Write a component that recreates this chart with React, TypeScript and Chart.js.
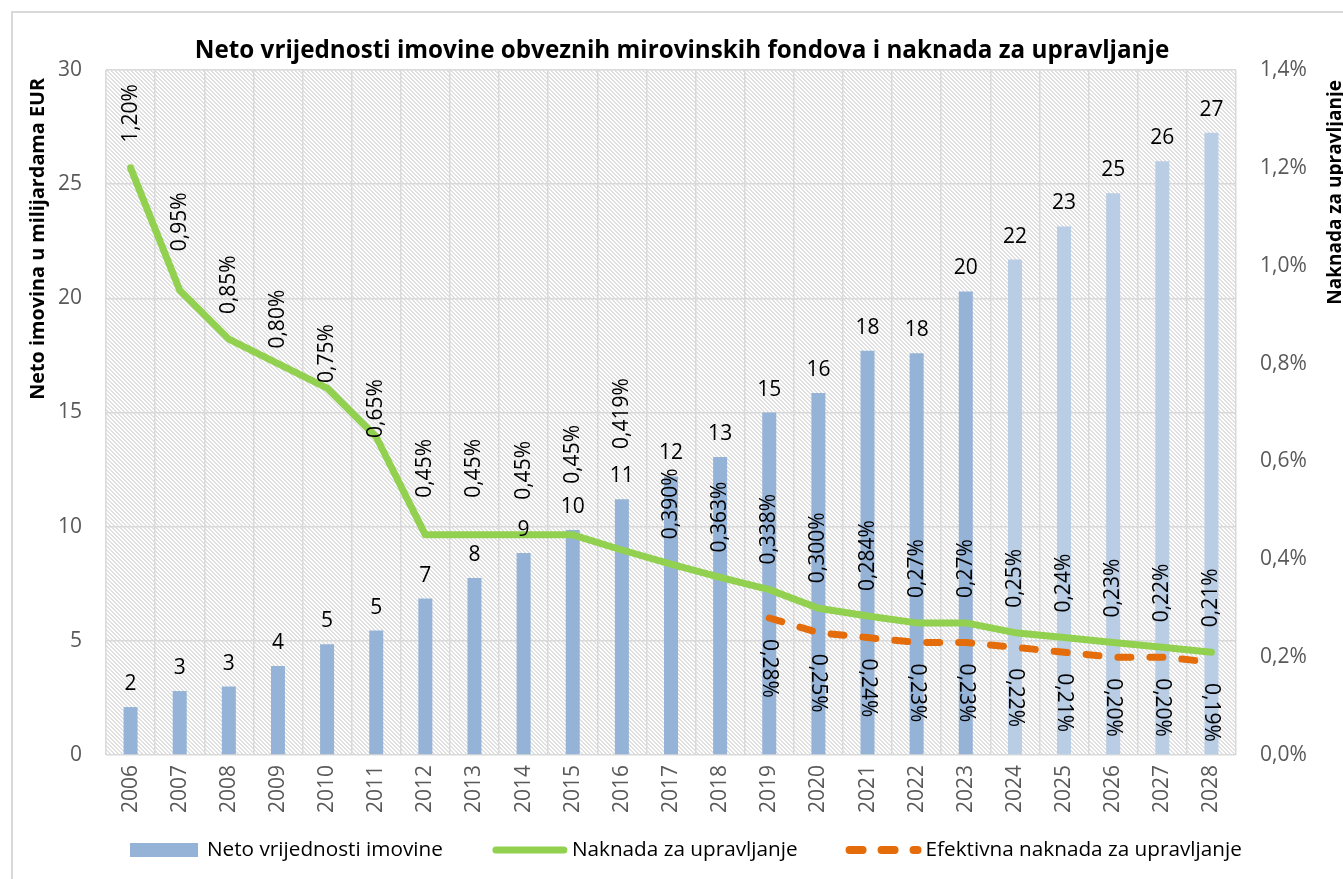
import React, { useEffect, useRef } from 'react';
import { Chart, registerables } from 'chart.js';

Chart.register(...registerables);

const FONT = "'Open Sans', sans-serif";

const chartTitle = 'Neto vrijednosti imovine obveznih mirovinskih fondova i naknada za upravljanje';
const leftAxisTitle = 'Neto imovina u milijardama EUR';
const rightAxisTitle = 'Naknada za upravljanje';

const years = ['2006', '2007', '2008', '2009', '2010', '2011', '2012', '2013', '2014', '2015', '2016', '2017', '2018', '2019', '2020', '2021', '2022', '2023', '2024', '2025', '2026', '2027', '2028'];
const firstProjectedYear = '2024';

const seriesNames = ['Neto vrijednosti imovine', 'Naknada za upravljanje', 'Efektivna naknada za upravljanje'];

// Net asset value, billion EUR
const netAssets = [2.1, 2.8, 3.0, 3.9, 4.85, 5.45, 6.85, 7.75, 8.85, 9.85, 11.2, 12.2, 13.05, 15.0, 15.85, 17.7, 17.6, 20.3, 21.7, 23.15, 24.6, 26.0, 27.25];
const netAssetLabels = ['2', '3', '3', '4', '5', '5', '7', '8', '9', '10', '11', '12', '13', '15', '16', '18', '18', '20', '22', '23', '25', '26', '27'];

// Management fee, %
const fee = [1.2, 0.95, 0.85, 0.8, 0.75, 0.65, 0.45, 0.45, 0.45, 0.45, 0.419, 0.39, 0.363, 0.338, 0.3, 0.284, 0.27, 0.27, 0.25, 0.24, 0.23, 0.22, 0.21];
const feeLabels = ['1,20%', '0,95%', '0,85%', '0,80%', '0,75%', '0,65%', '0,45%', '0,45%', '0,45%', '0,45%', '0,419%', '0,390%', '0,363%', '0,338%', '0,300%', '0,284%', '0,27%', '0,27%', '0,25%', '0,24%', '0,23%', '0,22%', '0,21%'];

// Effective management fee, %
const effectiveFee = [null, null, null, null, null, null, null, null, null, null, null, null, null, 0.28, 0.25, 0.24, 0.23, 0.23, 0.22, 0.21, 0.2, 0.2, 0.19];
const effectiveFeeLabels = ['', '', '', '', '', '', '', '', '', '', '', '', '', '0,28%', '0,25%', '0,24%', '0,23%', '0,23%', '0,22%', '0,21%', '0,20%', '0,20%', '0,19%'];

const leftMin = 0;
const leftMax = 30;
const leftStep = 5;
const rightMin = 0;
const rightMax = 1.4;
const rightStep = 0.2;

// styling
const COLOR_BAR = '#95B3D7';
const COLOR_BAR_PROJ = '#B9CDE5';
const COLOR_FEE = '#92D050';
const COLOR_EFF = '#E46C0A';
const GRID = '#d9d9d9';
const TICK = '#595959';
// manual nudges of some fee labels (px, positive = up), as in the original
const feeLabelLift = [0, 14, 0, -10, -20, -26, 12, 12, 10, 26, 76, 0, 0, 0, 0, 0, 0, 0, 0, 0, 0, 0, 0];

let hatch: CanvasPattern | null = null;
function getHatch(ctx: CanvasRenderingContext2D) {
  if (hatch) return hatch;
  const c = document.createElement('canvas');
  c.width = 4;
  c.height = 4;
  const p = c.getContext('2d')!;
  p.fillStyle = '#ffffff';
  p.fillRect(0, 0, 4, 4);
  p.fillStyle = '#e0e0e0';
  for (let i = 0; i < 4; i++) {
    p.fillRect(i, i, 1, 1);
    p.fillRect((i + 1) % 4, i, 1, 1);
  }
  hatch = ctx.createPattern(c, 'repeat');
  return hatch;
}

function fitSize(ctx: CanvasRenderingContext2D, text: string, width: number, weight: string) {
  ctx.font = `${weight} 100px ${FONT}`;
  const w = ctx.measureText(text).width;
  return (100 * width) / w;
}

const decorPlugin = {
  id: 'decor',
  beforeDraw(chart: any) {
    const { ctx, chartArea: a } = chart;
    ctx.save();
    ctx.fillStyle = '#ffffff';
    ctx.fillRect(0, 0, chart.width, chart.height);
    ctx.fillStyle = getHatch(ctx);
    ctx.fillRect(a.left, a.top, a.right - a.left, a.bottom - a.top);
    ctx.strokeStyle = GRID;
    ctx.lineWidth = 2;
    ctx.strokeRect(12, 12, chart.width + 40, chart.height + 40);
    ctx.restore();
  },
  afterDatasetsDraw(chart: any) {
    const ctx = chart.ctx as CanvasRenderingContext2D;
    const barMeta = chart.getDatasetMeta(0);
    const feeMeta = chart.getDatasetMeta(1);
    const effMeta = chart.getDatasetMeta(2);
    ctx.save();
    ctx.fillStyle = '#000000';
    ctx.font = `21px ${FONT}`;
    ctx.textAlign = 'center';
    ctx.textBaseline = 'alphabetic';
    barMeta.data.forEach((el: any, i: number) => {
      ctx.fillText(netAssetLabels[i], el.x, el.y - 17);
    });
    feeMeta.data.forEach((el: any, i: number) => {
      ctx.save();
      ctx.translate(el.x, el.y - 25 - feeLabelLift[i]);
      ctx.rotate(-Math.PI / 2);
      ctx.textAlign = 'left';
      ctx.textBaseline = 'middle';
      ctx.fillText(feeLabels[i], 0, 0);
      ctx.restore();
    });
    effMeta.data.forEach((el: any, i: number) => {
      if (effectiveFee[i] == null) return;
      ctx.save();
      ctx.translate(el.x, el.y + 21);
      ctx.rotate(Math.PI / 2);
      ctx.textAlign = 'left';
      ctx.textBaseline = 'middle';
      ctx.fillText(effectiveFeeLabels[i], 0, 0);
      ctx.restore();
    });
    ctx.restore();
  },
  afterDraw(chart: any) {
    const ctx = chart.ctx as CanvasRenderingContext2D;
    ctx.save();
    // title
    const ts = fitSize(ctx, chartTitle, 975, 'bold');
    ctx.font = `bold ${ts}px ${FONT}`;
    ctx.fillStyle = '#000000';
    ctx.textAlign = 'center';
    ctx.textBaseline = 'alphabetic';
    ctx.fillText(chartTitle, 682, 58);

    // left axis title
    const ls = fitSize(ctx, leftAxisTitle, 322, 'bold');
    ctx.save();
    ctx.font = `bold ${ls}px ${FONT}`;
    ctx.translate(44, 78);
    ctx.rotate(-Math.PI / 2);
    ctx.textAlign = 'right';
    ctx.fillText(leftAxisTitle, 0, 0);
    ctx.restore();

    // right axis title
    const rs = fitSize(ctx, rightAxisTitle, 225, 'bold');
    ctx.save();
    ctx.font = `bold ${rs}px ${FONT}`;
    ctx.translate(1341, 80);
    ctx.rotate(-Math.PI / 2);
    ctx.textAlign = 'right';
    ctx.fillText(rightAxisTitle, 0, 0);
    ctx.restore();

    // legend
    const gs = fitSize(ctx, seriesNames[0], 236, 'normal');
    ctx.font = `${gs}px ${FONT}`;
    ctx.textAlign = 'left';
    ctx.textBaseline = 'middle';
    const cy = 850;
    let x = 130;
    // bars
    ctx.fillStyle = COLOR_BAR;
    ctx.fillRect(x, cy - 7, 68, 14);
    ctx.fillStyle = '#000000';
    ctx.fillText(seriesNames[0], x + 77, cy);
    x = x + 77 + ctx.measureText(seriesNames[0]).width + 50;
    // fee line
    ctx.strokeStyle = COLOR_FEE;
    ctx.lineWidth = 7;
    ctx.lineCap = 'round';
    ctx.beginPath();
    ctx.moveTo(x + 3, cy);
    ctx.lineTo(x + 71, cy);
    ctx.stroke();
    ctx.fillText(seriesNames[1], x + 79, cy);
    x = x + 79 + ctx.measureText(seriesNames[1]).width + 48;
    // effective fee dashed
    ctx.strokeStyle = COLOR_EFF;
    ctx.lineWidth = 8;
    ctx.setLineDash([13, 19]);
    ctx.beginPath();
    ctx.moveTo(x + 4, cy);
    ctx.lineTo(x + 72, cy);
    ctx.stroke();
    ctx.setLineDash([]);
    ctx.fillText(seriesNames[2], x + 80, cy);
    ctx.restore();
  },
};

export default function App() {
  const ref = useRef<HTMLCanvasElement>(null);
  useEffect(() => {
    if (!ref.current) return;
    const tickFont = { family: FONT, size: 21 };
    const chart = new Chart(ref.current, {
      type: 'bar',
      data: {
        labels: years,
        datasets: [
          {
            type: 'bar',
            label: seriesNames[0],
            data: netAssets,
            backgroundColor: years.map((y) => (y >= firstProjectedYear ? COLOR_BAR_PROJ : COLOR_BAR)),
            yAxisID: 'y',
            order: 3,
            barPercentage: 0.285,
            categoryPercentage: 1,
          },
          {
            type: 'line',
            label: seriesNames[1],
            data: fee,
            borderColor: COLOR_FEE,
            backgroundColor: COLOR_FEE,
            borderWidth: 7,
            borderCapStyle: 'round',
            borderJoinStyle: 'round',
            pointRadius: 0,
            pointHoverRadius: 0,
            yAxisID: 'y1',
            order: 1,
          },
          {
            type: 'line',
            label: seriesNames[2],
            data: effectiveFee,
            borderColor: COLOR_EFF,
            backgroundColor: COLOR_EFF,
            borderWidth: 7,
            borderDash: [13, 19],
            borderCapStyle: 'round',
            borderJoinStyle: 'round',
            pointRadius: 0,
            pointHoverRadius: 0,
            yAxisID: 'y1',
            order: 2,
          },
        ],
      } as any,
      options: {
        responsive: false,
        animation: false,
        layout: { padding: { top: 70, left: 0, right: 0, bottom: 0 } },
        plugins: {
          legend: { display: false },
          title: { display: false },
          tooltip: { enabled: false },
        },
        scales: {
          x: {
            grid: { color: GRID, lineWidth: 1.5, drawTicks: false, offset: true },
            border: { display: false },
            ticks: { color: TICK, font: tickFont, minRotation: 90, maxRotation: 90, autoSkip: false, padding: 10 },
            afterFit: (s: any) => {
              s.height = 124;
            },
          },
          y: {
            position: 'left',
            min: leftMin,
            max: leftMax,
            ticks: { stepSize: leftStep, color: TICK, font: tickFont, padding: 24 },
            grid: { color: GRID, lineWidth: 1.5, drawTicks: false },
            border: { display: false },
            afterFit: (s: any) => {
              s.width = 106;
            },
          },
          y1: {
            position: 'right',
            min: rightMin,
            max: rightMax,
            ticks: {
              stepSize: rightStep,
              color: TICK,
              font: tickFont,
              padding: 24,
              callback: (v: any) => Number(v).toFixed(1).replace('.', ',') + '%',
            },
            grid: { drawOnChartArea: false, drawTicks: false },
            border: { display: false },
            afterFit: (s: any) => {
              s.width = 107;
            },
          },
        },
      } as any,
      plugins: [decorPlugin],
    });
    return () => chart.destroy();
  }, []);
  return (
    <div style={{ position: 'absolute', left: 0, top: 0, width: 1343, height: 879, background: '#fff' }}>
      <canvas ref={ref} width={1343} height={879} style={{ display: 'block' }} />
    </div>
  );
}
